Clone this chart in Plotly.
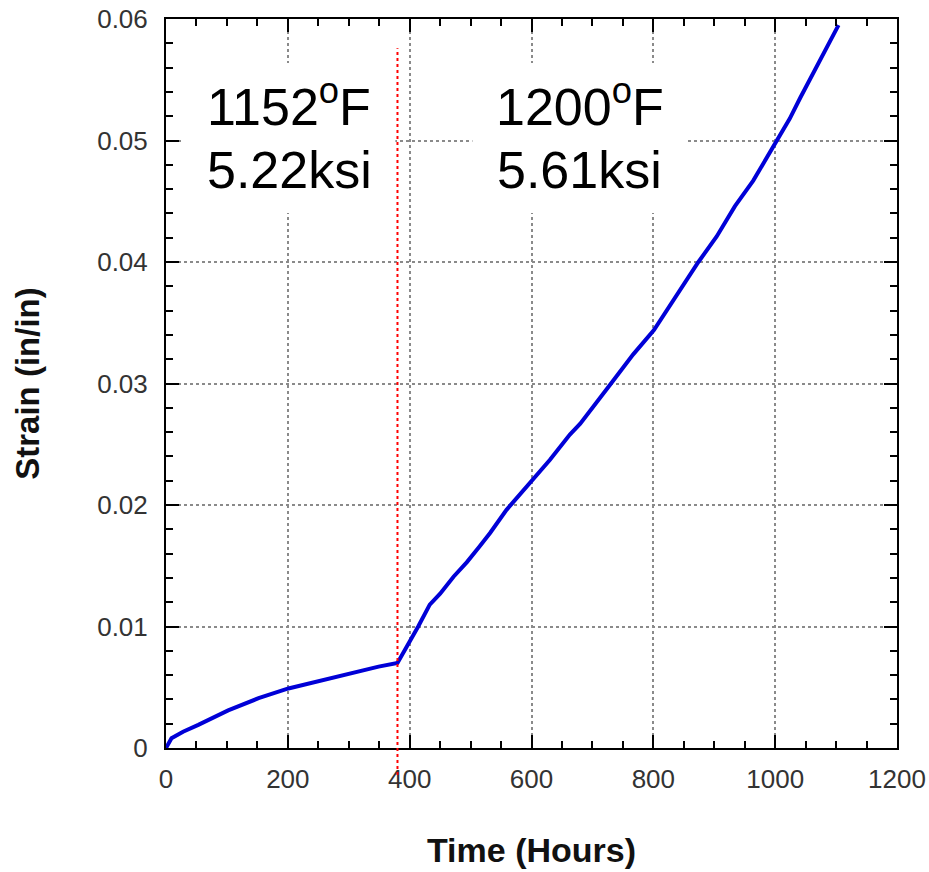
import plotly.graph_objects as go

# ---- data ----
time_hr = [0, 9, 28, 53, 102, 152, 201, 250, 299, 349, 380, 395, 414, 433, 450,
           472, 494, 515, 532, 559, 566, 597, 630, 663, 680, 729, 767, 801, 844,
           874, 904, 934, 964, 1002, 1024, 1041, 1068, 1087, 1104]
strain = [0.0, 0.0008, 0.00134, 0.0019, 0.0031, 0.0041, 0.0049, 0.0055, 0.0061,
          0.0067, 0.0070, 0.0083, 0.0100, 0.0118, 0.0127, 0.0141, 0.0153, 0.0166,
          0.0177, 0.0196, 0.0200, 0.0218, 0.0237, 0.0258, 0.0267, 0.0299, 0.0324,
          0.0344, 0.0377, 0.0400, 0.0421, 0.0446, 0.0467, 0.0500, 0.0518, 0.0535,
          0.0561, 0.0580, 0.0595]
change_time = 380
label_1 = ["1152<sup>o</sup>F", "5.22ksi"]
label_2 = ["1200<sup>o</sup>F", "5.61ksi"]
x_ticks = [0, 200, 400, 600, 800, 1000, 1200]
y_ticks = [0, 0.01, 0.02, 0.03, 0.04, 0.05, 0.06]

FONT = "Liberation Sans, Arial, sans-serif"

fig = go.Figure()
fig.add_trace(go.Scatter(
    x=time_hr, y=strain, mode="lines",
    line=dict(color="rgb(0,0,215)", width=4),
    showlegend=False, hoverinfo="x+y",
))

axis_common = dict(
    showline=True, linecolor="black", linewidth=2, mirror="ticks",
    ticks="inside", ticklen=13, tickwidth=2, tickcolor="black",
    showgrid=True, gridcolor="#8a8a8a", gridwidth=1.5, griddash="dot",
    zeroline=False, automargin=False,
    tickfont=dict(family=FONT, size=26, color="#333333"),
)

fig.update_xaxes(
    range=[0, 1200], tickvals=x_ticks,
    minor=dict(ticks="inside", ticklen=7, tickwidth=2, tickcolor="black",
               dtick=50, showgrid=False),
    title=dict(text="<b>Time (Hours)</b>", font=dict(family=FONT, size=34, color="#111111"),
               standoff=45),
    ticklabelstandoff=7,
    **axis_common,
)
fig.update_yaxes(
    range=[0, 0.06], tickvals=y_ticks,
    minor=dict(ticks="inside", ticklen=7, tickwidth=2, tickcolor="black",
               dtick=0.002, showgrid=False),
    title=dict(text="<b>Strain (in/in)</b>", font=dict(family=FONT, size=33, color="#111111"),
               standoff=48),
    ticklabelstandoff=11,
    **axis_common,
)

# white label boxes (above grid, below data)
for x0, x1 in [(27, 376.5), (503, 855.6)]:
    fig.add_shape(type="rect", xref="x", yref="y", x0=x0, x1=x1, y0=0.04403, y1=0.05638,
                  fillcolor="white", line=dict(width=0), layer="between")

# transition line
fig.add_shape(type="line", xref="x", yref="paper", x0=change_time, x1=change_time,
              y0=-0.037, y1=0.96, line=dict(color="red", width=2, dash="dot"),
              layer="above")

for xc, lines in [(202, label_1), (679, label_2)]:
    for yc, txt in zip([0.0531, 0.04755], lines):
        fig.add_annotation(x=xc, y=yc, xref="x", yref="y", text=txt, showarrow=False,
                           font=dict(family=FONT, size=52, color="black"),
                           xanchor="center", yanchor="middle", align="center")

fig.update_layout(
    width=929, height=872,
    margin=dict(l=166, r=32, t=19, b=124),
    paper_bgcolor="white", plot_bgcolor="white",
)

fig.write_html("out.html")
